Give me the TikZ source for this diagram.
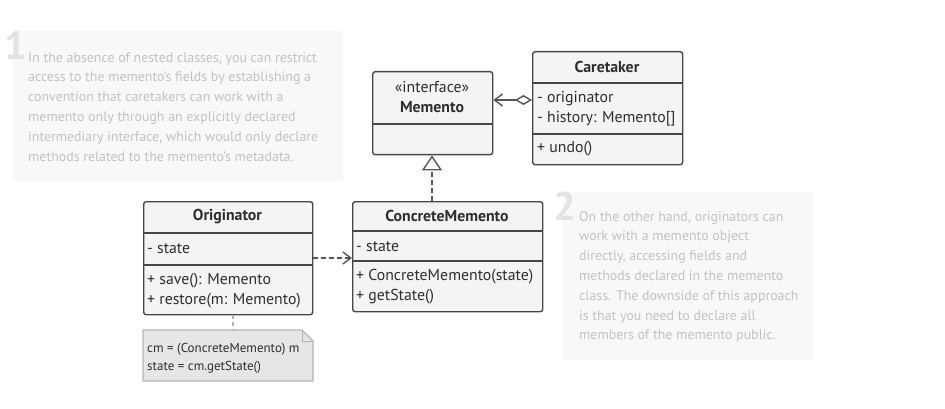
\documentclass[tikz,border=0pt]{standalone}
\usepackage{fontspec}
\setmainfont{PT Sans}
\usetikzlibrary{arrows.meta}
\definecolor{boxfill}{HTML}{F4F4F4}
\definecolor{boxline}{HTML}{474747}
\definecolor{txt}{HTML}{2E2E2E}
\definecolor{arrowcol}{HTML}{555555}
\definecolor{notebg}{HTML}{F8F8F8}
\definecolor{notetxt}{HTML}{C2C2C2}
\definecolor{numcol}{HTML}{E3E3E3}
\definecolor{memofill}{HTML}{E6E6E6}
\definecolor{memoline}{HTML}{B4B4B4}
\begin{document}
\begin{tikzpicture}[x=1pt,y=-1pt,
  cls/.style={draw=boxline, fill=boxfill, line width=1.4pt, rounded corners=2.5pt,
              inner sep=0pt, anchor=north west},
  divider/.style={draw=boxline, line width=1.4pt},
  ctext/.style={text=txt, font=\fontsize{15.8}{18}\selectfont, inner sep=0pt},
  ctitle/.style={ctext, font=\fontsize{15.8}{18}\selectfont\bfseries},
  member/.style={ctext, anchor=west},
  infobox/.style={fill=notebg, draw=none, inner sep=0pt, anchor=north west},
  infotext/.style={text=notetxt, font=\fontsize{13.9}{19.8}\selectfont, align=left,
                   anchor=north west, inner sep=0pt},
  bignum/.style={text=numcol, font=\fontsize{40}{40}\selectfont\bfseries, inner sep=0pt, anchor=north west},
  conn/.style={draw=arrowcol, line width=1.4pt},
  notetext/.style={text=txt, font=\fontsize{13}{18}\selectfont, anchor=west, inner sep=0pt}
]
\useasboundingbox (0,0) rectangle (945,409);

% ---- info note 1
\node[infobox, minimum width=330pt, minimum height=150pt] (info1) at (13,31) {};
\node[bignum] (num1) at (4,31) {1};
\node[infotext] (info1t) at (28,52) {In the absence of nested classes, you can restrict\\
access to the memento's fields by establishing a\\
convention that caretakers can work with a\\
memento only through an explicitly declared\\
intermediary interface, which would only declare\\
methods related to the memento's metadata.};

% ---- info note 2
\node[infobox, minimum width=251pt, minimum height=168pt] (info2) at (562,192) {};
\node[bignum] (num2) at (553,192) {2};
\node[infotext] (info2t) at (579,211) {On the other hand, originators can\\
work with a memento object\\
directly, accessing fields and\\
methods declared in the memento\\
class. The downside of this approach\\
is that you need to declare all\\
members of the memento public.};

% ---- Memento
\node[cls, minimum width=120pt, minimum height=83pt] (memento) at (372,71) {};
\draw[divider] (372,124) -- (492,124);
\node[ctext] (memst) at (432,87) {«interface»};
\node[ctitle] (memname) at (432,107) {Memento};

% ---- Caretaker
\node[cls, minimum width=150pt, minimum height=113pt] (care) at (532,51) {};
\draw[divider] (532,83) -- (682,83);
\draw[divider] (532,134) -- (682,134);
\node[ctitle] (carename) at (607,67) {Caretaker};
\node[member] (care1) at (537,99) {- originator};
\node[member] (care2) at (537,119) {- history: Memento[]};
\node[member] (care3) at (537,149) {+ undo()};

% ---- ConcreteMemento
\node[cls, minimum width=190pt, minimum height=110pt] (cm) at (352,201) {};
\draw[divider] (352,231) -- (542,231);
\draw[divider] (352,261) -- (542,261);
\node[ctitle] (cmname) at (447,216) {ConcreteMemento};
\node[member] (cm1) at (356,247) {- state};
\node[member] (cm2) at (356,277) {+ ConcreteMemento(state)};
\node[member] (cm3) at (356,297) {+ getState()};

% ---- Originator
\node[cls, minimum width=169pt, minimum height=113pt] (orig) at (143,201) {};
\draw[divider] (143,233) -- (312,233);
\draw[divider] (143,265) -- (312,265);
\node[ctitle] (origname) at (227.5,217) {Originator};
\node[member] (orig1) at (147,249) {- state};
\node[member] (orig2) at (147,281) {+ save(): Memento};
\node[member] (orig3) at (147,301) {+ restore(m: Memento)};

% ---- code note
\node[inner sep=0pt, minimum width=170pt, minimum height=51pt, anchor=north west] (codenote) at (143,330) {};
\draw[fill=memofill, draw=memoline, line width=1.2pt]
  (143,330) -- (302,330) -- (313,341) -- (313,381) -- (143,381) -- cycle;
\draw[draw=memoline, line width=1.0pt] (302,330) -- (302,341) -- (313,341);
\node[notetext] (code1) at (147,349) {cm = (ConcreteMemento) m};
\node[notetext] (code2) at (147,367) {state = cm.getState()};
\draw[draw=memoline, line width=1.2pt, dash pattern=on 4pt off 3pt]
  (orig.south -| 233,0) -- (codenote.north -| 233,0);

% ---- connectors
\coordinate (aggA) at (532,100);
\coordinate (aggB) at (492,100);
\draw[conn, {Diamond[open, length=17pt, width=10pt, line width=1.4pt]}-{Straight Barb[length=8pt, width=12pt, line width=1.4pt]}]
  (care.west |- aggA) -- (memento.east |- aggB);

\draw[conn, dash pattern=on 5pt off 3pt, -{Triangle[open, length=15pt, width=20pt, line width=1.4pt, fill=white]}]
  (cm.north -| 432,0) -- (memento.south -| 432,0);

\coordinate (depY) at (0,258);
\draw[conn, dash pattern=on 5pt off 3pt, -{Straight Barb[length=8pt, width=12pt, line width=1.4pt]}]
  (orig.east |- depY) -- (cm.west |- depY);
\end{tikzpicture}
\end{document}
